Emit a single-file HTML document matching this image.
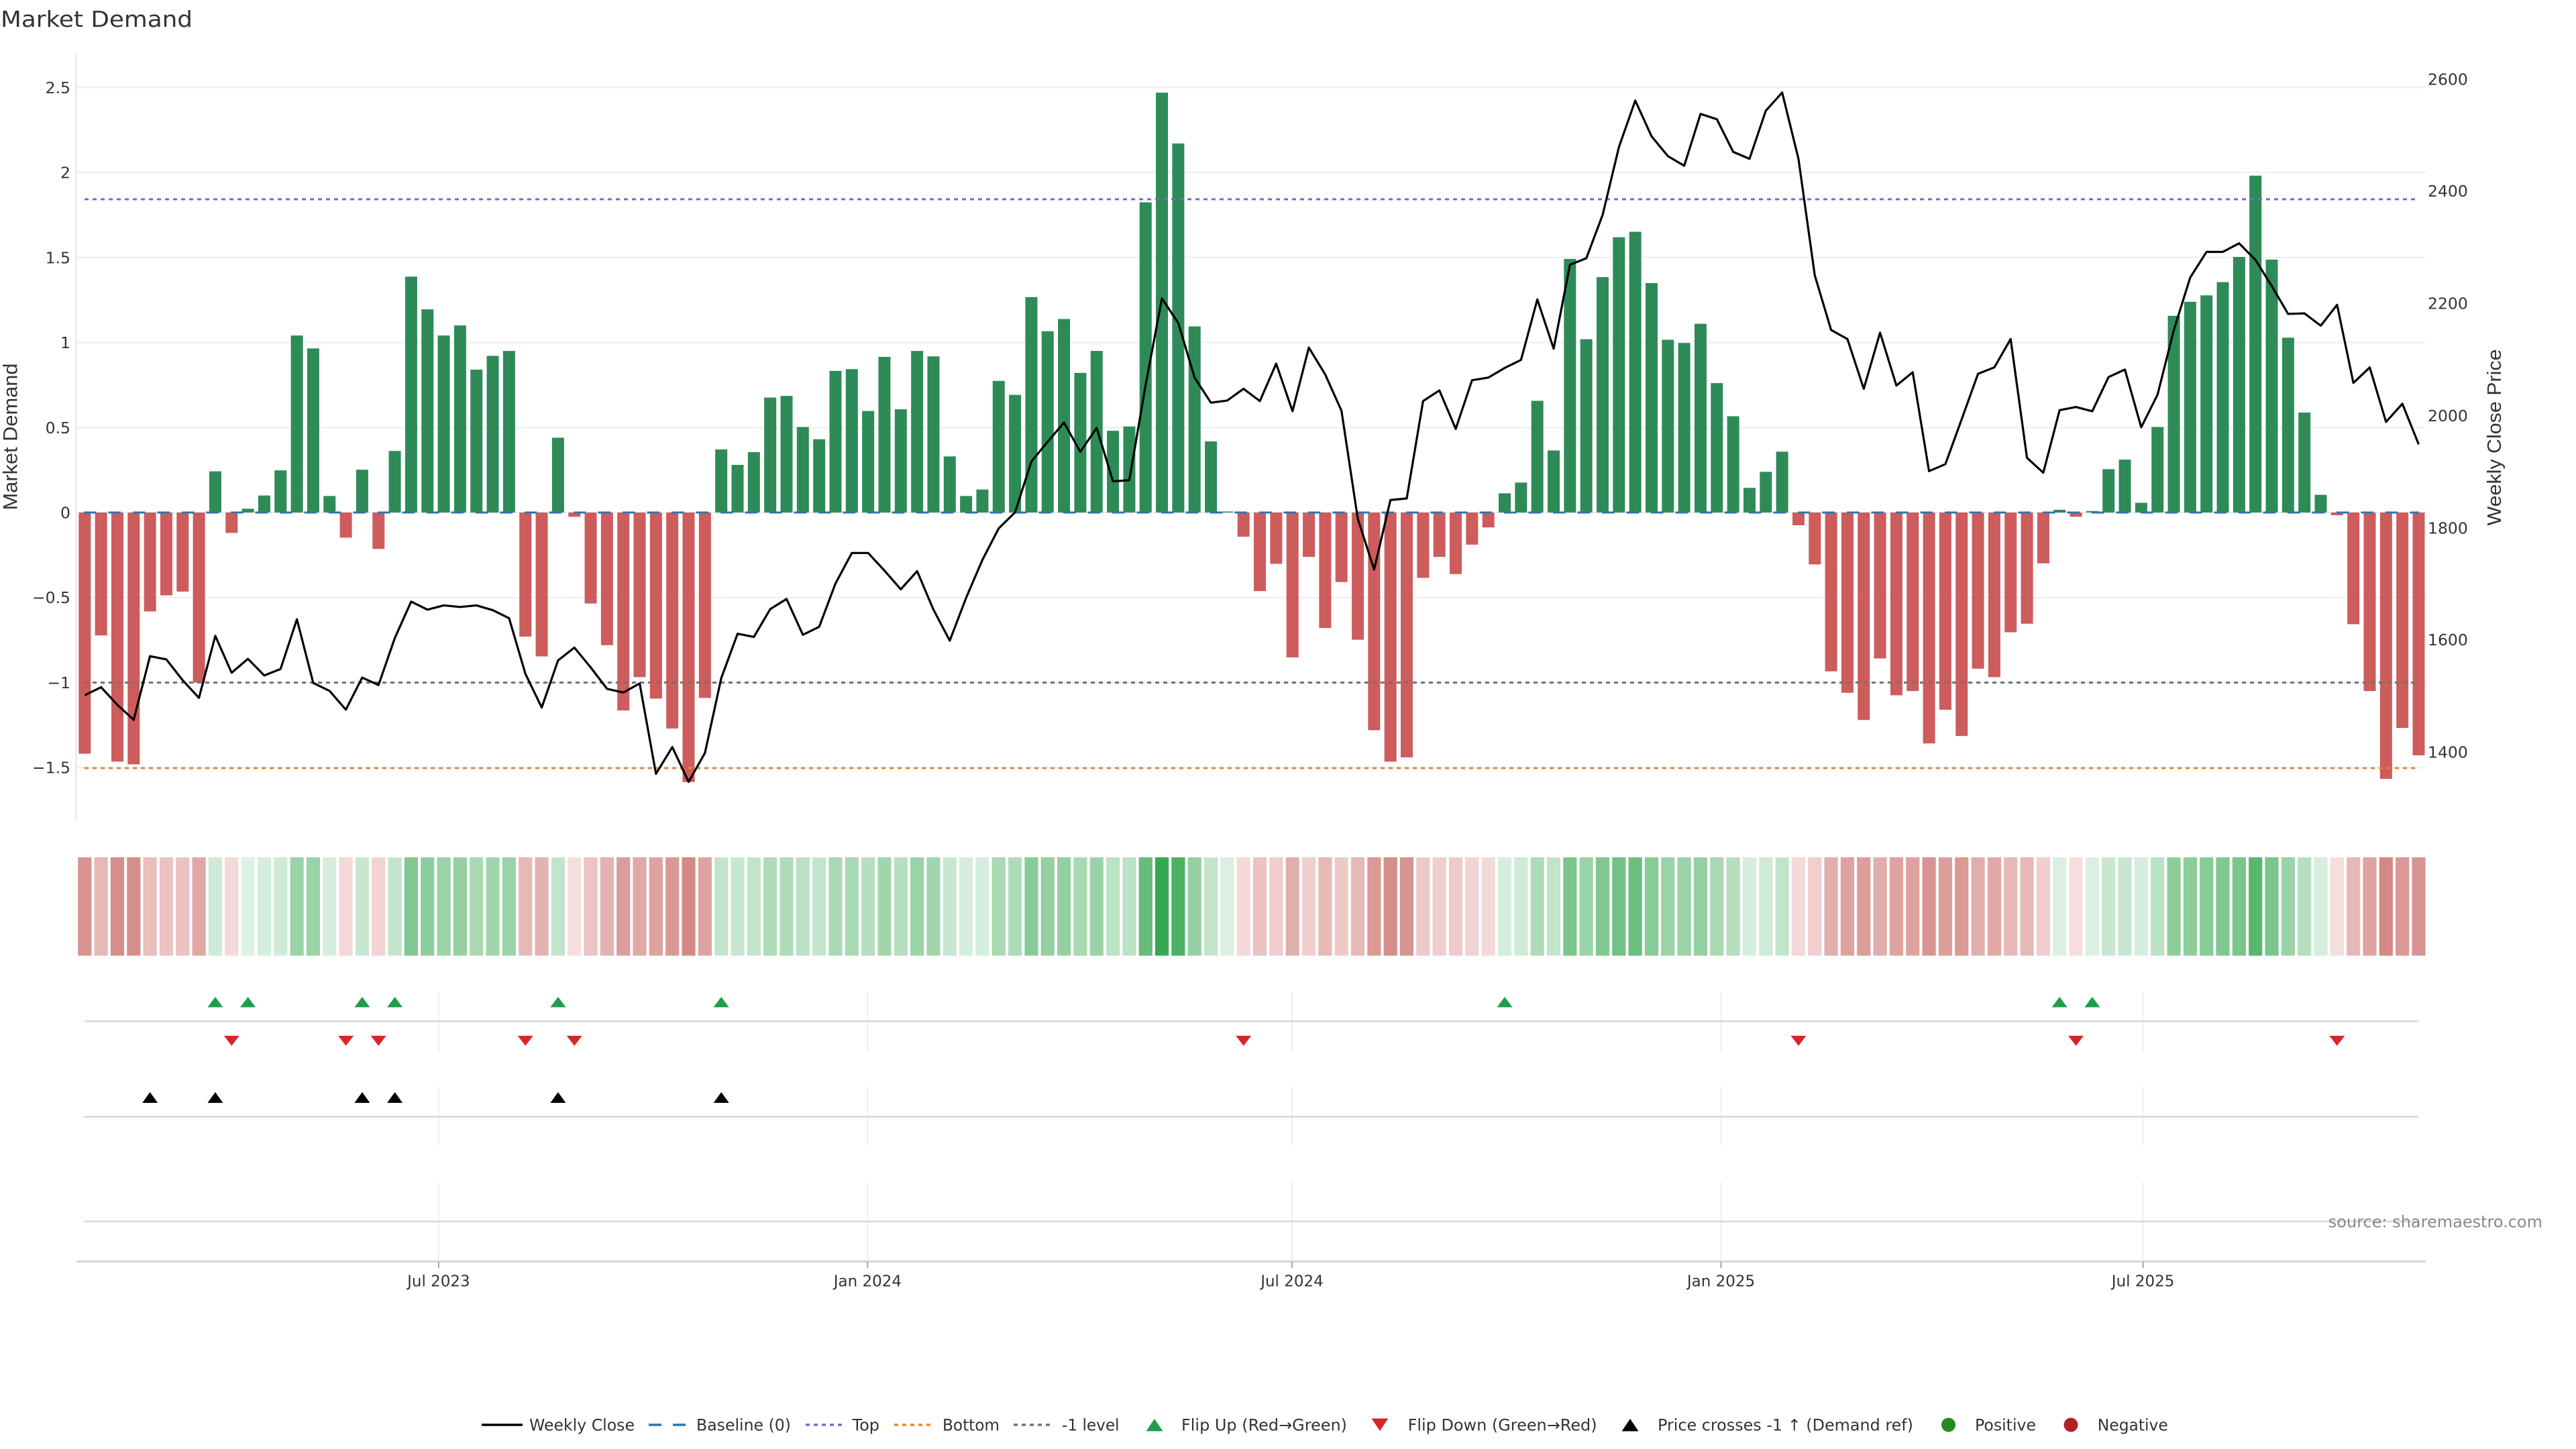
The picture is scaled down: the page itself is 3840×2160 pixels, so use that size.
<!DOCTYPE html>
<html><head><meta charset="utf-8"><style>
html,body{margin:0;padding:0;background:#fff}
svg{display:block}
.t{font-family:"DejaVu Sans","Liberation Sans",sans-serif;fill:#333}
.l{font-family:"Liberation Sans","DejaVu Sans",sans-serif;fill:#333}
</style></head><body>
<svg width="3840" height="2160" viewBox="0 0 3840 2160" xmlns="http://www.w3.org/2000/svg">
<rect width="3840" height="2160" fill="#fff"/>
<text class="t" x="1" y="40" font-size="33" textLength="286" lengthAdjust="spacingAndGlyphs">Market Demand</text>

<!-- gridlines -->
<g stroke="#eceef1" stroke-width="2">
<line x1="114" y1="130.3" x2="3616" y2="130.3"/>
<line x1="114" y1="257" x2="3616" y2="257"/>
<line x1="114" y1="383.8" x2="3616" y2="383.8"/>
<line x1="114" y1="510.5" x2="3616" y2="510.5"/>
<line x1="114" y1="637.3" x2="3616" y2="637.3"/>
<line x1="114" y1="764" x2="3616" y2="764"/>
<line x1="114" y1="890.7" x2="3616" y2="890.7"/>
<line x1="114" y1="1017.5" x2="3616" y2="1017.5"/>
<line x1="114" y1="1144.2" x2="3616" y2="1144.2"/>
</g>
<line x1="113.5" y1="80" x2="113.5" y2="1222" stroke="#e4e5ea" stroke-width="2"/>

<!-- left ticks -->
<g class="t" font-size="23.5" text-anchor="end">
<text x="105" y="138.8">2.5</text>
<text x="105" y="265.5">2</text>
<text x="105" y="392.3">1.5</text>
<text x="105" y="519">1</text>
<text x="105" y="645.8">0.5</text>
<text x="105" y="772.5">0</text>
<text x="105" y="899.2">−0.5</text>
<text x="105" y="1026">−1</text>
<text x="105" y="1152.7">−1.5</text>
</g>
<!-- right ticks -->
<g class="t" font-size="23.5">
<text x="3619" y="126.5">2600</text>
<text x="3619" y="293.1">2400</text>
<text x="3619" y="460.5">2200</text>
<text x="3619" y="627.9">2000</text>
<text x="3619" y="795.3">1800</text>
<text x="3619" y="961.9">1600</text>
<text x="3619" y="1129.3">1400</text>
</g>
<text class="l" font-size="30" text-anchor="middle" dominant-baseline="central" transform="translate(16 651) rotate(-90)" textLength="219" lengthAdjust="spacingAndGlyphs">Market Demand</text>
<text class="l" font-size="29" text-anchor="middle" dominant-baseline="central" transform="translate(3719 652) rotate(-90)" textLength="263" lengthAdjust="spacingAndGlyphs">Weekly Close Price</text>

<!-- bars -->
<g transform="translate(126.3 764) scale(24.33 -253.5)">
<path fill="#2e8b57" d="M7.63 0h.74v.242h-.74zM9.63 0h.74v.022h-.74zM10.63 0h.74v.1h-.74zM11.63 0h.74v.248h-.74zM12.63 0h.74v1.041h-.74zM13.63 0h.74v.965h-.74zM14.63 0h.74v.097h-.74zM16.63 0h.74v.252h-.74zM18.63 0h.74v.362h-.74zM19.63 0h.74v1.387h-.74zM20.63 0h.74v1.195h-.74zM21.63 0h.74v1.041h-.74zM22.63 0h.74v1.1h-.74zM23.63 0h.74v.84h-.74zM24.63 0h.74v.921h-.74zM25.63 0h.74v.95h-.74zM28.63 0h.74v.44h-.74zM38.63 0h.74v.371h-.74zM39.63 0h.74v.28h-.74zM40.63 0h.74v.355h-.74zM41.63 0h.74v.676h-.74zM42.63 0h.74v.686h-.74zM43.63 0h.74v.503h-.74zM44.63 0h.74v.431h-.74zM45.63 0h.74v.833h-.74zM46.63 0h.74v.843h-.74zM47.63 0h.74v.597h-.74zM48.63 0h.74v.915h-.74zM49.63 0h.74v.607h-.74zM50.63 0h.74v.95h-.74zM51.63 0h.74v.918h-.74zM52.63 0h.74v.33h-.74zM53.63 0h.74v.097h-.74zM54.63 0h.74v.135h-.74zM55.63 0h.74v.774h-.74zM56.63 0h.74v.692h-.74zM57.63 0h.74v1.267h-.74zM58.63 0h.74v1.066h-.74zM59.63 0h.74v1.138h-.74zM60.63 0h.74v.821h-.74zM61.63 0h.74v.95h-.74zM62.63 0h.74v.481h-.74zM63.63 0h.74v.506h-.74zM64.63 0h.74v1.824h-.74zM65.63 0h.74v2.469h-.74zM66.63 0h.74v2.17h-.74zM67.63 0h.74v1.094h-.74zM68.63 0h.74v.418h-.74zM69.63 0h.74v.006h-.74zM86.63 0h.74v.113h-.74zM87.63 0h.74v.176h-.74zM88.63 0h.74v.657h-.74zM89.63 0h.74v.365h-.74zM90.63 0h.74v1.491h-.74zM91.63 0h.74v1.019h-.74zM92.63 0h.74v1.384h-.74zM93.63 0h.74v1.619h-.74zM94.63 0h.74v1.651h-.74zM95.63 0h.74v1.349h-.74zM96.63 0h.74v1.016h-.74zM97.63 0h.74v.997h-.74zM98.63 0h.74v1.11h-.74zM99.63 0h.74v.761h-.74zM100.63 0h.74v.566h-.74zM101.63 0h.74v.145h-.74zM102.63 0h.74v.239h-.74zM103.63 0h.74v.358h-.74zM120.63 0h.74v.016h-.74zM122.63 0h.74v.009h-.74zM123.63 0h.74v.255h-.74zM124.63 0h.74v.311h-.74zM125.63 0h.74v.057h-.74zM126.63 0h.74v.503h-.74zM127.63 0h.74v1.157h-.74zM128.63 0h.74v1.239h-.74zM129.63 0h.74v1.277h-.74zM130.63 0h.74v1.355h-.74zM131.63 0h.74v1.503h-.74zM132.63 0h.74v1.981h-.74zM133.63 0h.74v1.487h-.74zM134.63 0h.74v1.028h-.74zM135.63 0h.74v.588h-.74zM136.63 0h.74v.104h-.74z"/>
<path fill="#cd5c5c" d="M-.37 0h.74v-1.418h-.74zM.63 0h.74v-.723h-.74zM1.63 0h.74v-1.465h-.74zM2.63 0h.74v-1.481h-.74zM3.63 0h.74v-.582h-.74zM4.63 0h.74v-.487h-.74zM5.63 0h.74v-.465h-.74zM6.63 0h.74v-1h-.74zM8.63 0h.74v-.12h-.74zM15.63 0h.74v-.148h-.74zM17.63 0h.74v-.214h-.74zM26.63 0h.74v-.73h-.74zM27.63 0h.74v-.846h-.74zM29.63 0h.74v-.025h-.74zM30.63 0h.74v-.535h-.74zM31.63 0h.74v-.78h-.74zM32.63 0h.74v-1.164h-.74zM33.63 0h.74v-.968h-.74zM34.63 0h.74v-1.094h-.74zM35.63 0h.74v-1.27h-.74zM36.63 0h.74v-1.585h-.74zM37.63 0h.74v-1.09h-.74zM70.63 0h.74v-.142h-.74zM71.63 0h.74v-.462h-.74zM72.63 0h.74v-.302h-.74zM73.63 0h.74v-.852h-.74zM74.63 0h.74v-.261h-.74zM75.63 0h.74v-.679h-.74zM76.63 0h.74v-.409h-.74zM77.63 0h.74v-.748h-.74zM78.63 0h.74v-1.28h-.74zM79.63 0h.74v-1.465h-.74zM80.63 0h.74v-1.44h-.74zM81.63 0h.74v-.384h-.74zM82.63 0h.74v-.261h-.74zM83.63 0h.74v-.362h-.74zM84.63 0h.74v-.189h-.74zM85.63 0h.74v-.088h-.74zM104.63 0h.74v-.075h-.74zM105.63 0h.74v-.305h-.74zM106.63 0h.74v-.934h-.74zM107.63 0h.74v-1.06h-.74zM108.63 0h.74v-1.22h-.74zM109.63 0h.74v-.858h-.74zM110.63 0h.74v-1.075h-.74zM111.63 0h.74v-1.05h-.74zM112.63 0h.74v-1.358h-.74zM113.63 0h.74v-1.16h-.74zM114.63 0h.74v-1.314h-.74zM115.63 0h.74v-.918h-.74zM116.63 0h.74v-.968h-.74zM117.63 0h.74v-.704h-.74zM118.63 0h.74v-.654h-.74zM119.63 0h.74v-.299h-.74zM121.63 0h.74v-.025h-.74zM137.63 0h.74v-.016h-.74zM138.63 0h.74v-.657h-.74zM139.63 0h.74v-1.05h-.74zM140.63 0h.74v-1.566h-.74zM141.63 0h.74v-1.267h-.74zM142.63 0h.74v-1.428h-.74z"/>
</g>

<!-- reference lines -->
<line x1="125" y1="764" x2="3606" y2="764" stroke="#2e75ad" stroke-width="3" stroke-dasharray="18.5 18"/>
<line x1="126" y1="297" x2="3605" y2="297" stroke="#7a6ac8" stroke-width="3" stroke-dasharray="6 6"/>
<line x1="126" y1="1017.5" x2="3605" y2="1017.5" stroke="#707080" stroke-width="3" stroke-dasharray="6 6"/>
<line x1="126" y1="1145" x2="3605" y2="1145" stroke="#e8872c" stroke-width="3" stroke-dasharray="6 6"/>

<!-- price line -->
<polyline transform="translate(126.3 0) scale(24.33 0.79719)" fill="none" stroke="#000" stroke-width="3.2" vector-effect="non-scaling-stroke" stroke-linejoin="round" points="0,1300 1,1285 2,1318 3,1346 4,1227 5,1233 6,1272 7,1305 8,1189 9,1258 10,1232 11,1263 12,1251 13,1158 14,1277 15,1292 16,1327 17,1267 18,1281 19,1193 20,1125 21,1140 22,1132 23,1135 24,1132 25,1141 26,1156 27,1260 28,1323 29,1235 30,1211 31,1248 32,1288 33,1295 34,1278 35,1447 36,1397 37,1462 38,1408 39,1268 40,1185 41,1191 42,1139 43,1120 44,1187 45,1172 46,1091 47,1034 48,1034 49,1067 50,1102 51,1068 52,1140 53,1198 54,1118 55,1047 56,988 57,958 58,863 59,826 60,790 61,845 62,800 63,900 64,898 65,720 66,558 67,604 68,706 69,753 70,749 71,727 72,750 73,680 74,769 75,650 76,700 77,768 78,970 79,1065 80,935 81,932 82,750 83,730 84,802 85,711 86,706 87,688 88,673 89,560 90,652 91,495 92,483 93,402 94,275 95,188 96,255 97,292 98,310 99,213 100,223 101,284 102,297 103,207 104,173 105,297 106,515 107,617 108,634 109,727 110,622 111,721 112,696 113,881 114,868 115,784 116,699 117,687 118,634 119,856 120,884 121,767 122,761 123,769 124,705 125,691 126,799 127,738 128,617 129,519 130,471 131,471 132,455 133,486 134,535 135,587 136,586 137,609 138,570 139,716 140,687 141,789 142,755 143,831"/>

<!-- heatmap -->
<g transform="translate(126.3 1278) scale(24.33 1)">
<rect x="-.415" width=".83" height="146.6" fill="#d89490"/><rect x=".585" width=".83" height="146.6" fill="#e6b9b7"/><rect x="1.585" width=".83" height="146.6" fill="#d68e8a"/><rect x="2.585" width=".83" height="146.6" fill="#d68e8a"/><rect x="3.585" width=".83" height="146.6" fill="#e9bebc"/><rect x="4.585" width=".83" height="146.6" fill="#ebc3c2"/><rect x="5.585" width=".83" height="146.6" fill="#ebc3c2"/><rect x="6.585" width=".83" height="146.6" fill="#e0a9a6"/><rect x="7.585" width=".83" height="146.6" fill="#cfead6"/><rect x="8.585" width=".83" height="146.6" fill="#f3d9d8"/>
<rect x="9.585" width=".83" height="146.6" fill="#dcf0e2"/><rect x="10.585" width=".83" height="146.6" fill="#d5eddc"/><rect x="11.585" width=".83" height="146.6" fill="#cfead6"/><rect x="12.585" width=".83" height="146.6" fill="#9ad3a8"/><rect x="13.585" width=".83" height="146.6" fill="#9ad3a8"/><rect x="14.585" width=".83" height="146.6" fill="#d5eddc"/><rect x="15.585" width=".83" height="146.6" fill="#f3d9d8"/><rect x="16.585" width=".83" height="146.6" fill="#c8e7d0"/><rect x="17.585" width=".83" height="146.6" fill="#f1d3d3"/><rect x="18.585" width=".83" height="146.6" fill="#c2e4cb"/>
<rect x="19.585" width=".83" height="146.6" fill="#80c890"/><rect x="20.585" width=".83" height="146.6" fill="#8dcd9c"/><rect x="21.585" width=".83" height="146.6" fill="#9ad3a8"/><rect x="22.585" width=".83" height="146.6" fill="#94d0a2"/><rect x="23.585" width=".83" height="146.6" fill="#a8d9b3"/><rect x="24.585" width=".83" height="146.6" fill="#a1d6ad"/><rect x="25.585" width=".83" height="146.6" fill="#9ad3a8"/><rect x="26.585" width=".83" height="146.6" fill="#e6b9b7"/><rect x="27.585" width=".83" height="146.6" fill="#e4b3b1"/><rect x="28.585" width=".83" height="146.6" fill="#c2e4cb"/>
<rect x="29.585" width=".83" height="146.6" fill="#f5dede"/><rect x="30.585" width=".83" height="146.6" fill="#ebc3c2"/><rect x="31.585" width=".83" height="146.6" fill="#e4b3b1"/><rect x="32.585" width=".83" height="146.6" fill="#dc9e9b"/><rect x="33.585" width=".83" height="146.6" fill="#e0a9a6"/><rect x="34.585" width=".83" height="146.6" fill="#dea3a0"/><rect x="35.585" width=".83" height="146.6" fill="#da9995"/><rect x="36.585" width=".83" height="146.6" fill="#d48984"/><rect x="37.585" width=".83" height="146.6" fill="#dea3a0"/><rect x="38.585" width=".83" height="146.6" fill="#c2e4cb"/>
<rect x="39.585" width=".83" height="146.6" fill="#c8e7d0"/><rect x="40.585" width=".83" height="146.6" fill="#c2e4cb"/><rect x="41.585" width=".83" height="146.6" fill="#aedcb9"/><rect x="42.585" width=".83" height="146.6" fill="#aedcb9"/><rect x="43.585" width=".83" height="146.6" fill="#bbe2c5"/><rect x="44.585" width=".83" height="146.6" fill="#c2e4cb"/><rect x="45.585" width=".83" height="146.6" fill="#a8d9b3"/><rect x="46.585" width=".83" height="146.6" fill="#a8d9b3"/><rect x="47.585" width=".83" height="146.6" fill="#b5dfbf"/><rect x="48.585" width=".83" height="146.6" fill="#a1d6ad"/>
<rect x="49.585" width=".83" height="146.6" fill="#b5dfbf"/><rect x="50.585" width=".83" height="146.6" fill="#9ad3a8"/><rect x="51.585" width=".83" height="146.6" fill="#a1d6ad"/><rect x="52.585" width=".83" height="146.6" fill="#c8e7d0"/><rect x="53.585" width=".83" height="146.6" fill="#d5eddc"/><rect x="54.585" width=".83" height="146.6" fill="#d5eddc"/><rect x="55.585" width=".83" height="146.6" fill="#a8d9b3"/><rect x="56.585" width=".83" height="146.6" fill="#aedcb9"/><rect x="57.585" width=".83" height="146.6" fill="#87cb96"/><rect x="58.585" width=".83" height="146.6" fill="#94d0a2"/>
<rect x="59.585" width=".83" height="146.6" fill="#94d0a2"/><rect x="60.585" width=".83" height="146.6" fill="#a8d9b3"/><rect x="61.585" width=".83" height="146.6" fill="#9ad3a8"/><rect x="62.585" width=".83" height="146.6" fill="#bbe2c5"/><rect x="63.585" width=".83" height="146.6" fill="#bbe2c5"/><rect x="64.585" width=".83" height="146.6" fill="#66bc79"/><rect x="65.585" width=".83" height="146.6" fill="#38a850"/><rect x="66.585" width=".83" height="146.6" fill="#4cb161"/><rect x="67.585" width=".83" height="146.6" fill="#94d0a2"/><rect x="68.585" width=".83" height="146.6" fill="#c2e4cb"/>
<rect x="69.585" width=".83" height="146.6" fill="#dcf0e2"/><rect x="70.585" width=".83" height="146.6" fill="#f3d9d8"/><rect x="71.585" width=".83" height="146.6" fill="#ebc3c2"/><rect x="72.585" width=".83" height="146.6" fill="#efcecd"/><rect x="73.585" width=".83" height="146.6" fill="#e2aeac"/><rect x="74.585" width=".83" height="146.6" fill="#efcecd"/><rect x="75.585" width=".83" height="146.6" fill="#e6b9b7"/><rect x="76.585" width=".83" height="146.6" fill="#edc9c8"/><rect x="77.585" width=".83" height="146.6" fill="#e6b9b7"/><rect x="78.585" width=".83" height="146.6" fill="#da9995"/>
<rect x="79.585" width=".83" height="146.6" fill="#d68e8a"/><rect x="80.585" width=".83" height="146.6" fill="#d89490"/><rect x="81.585" width=".83" height="146.6" fill="#edc9c8"/><rect x="82.585" width=".83" height="146.6" fill="#efcecd"/><rect x="83.585" width=".83" height="146.6" fill="#edc9c8"/><rect x="84.585" width=".83" height="146.6" fill="#f1d3d3"/><rect x="85.585" width=".83" height="146.6" fill="#f3d9d8"/><rect x="86.585" width=".83" height="146.6" fill="#d5eddc"/><rect x="87.585" width=".83" height="146.6" fill="#cfead6"/><rect x="88.585" width=".83" height="146.6" fill="#aedcb9"/>
<rect x="89.585" width=".83" height="146.6" fill="#c2e4cb"/><rect x="90.585" width=".83" height="146.6" fill="#7ac58a"/><rect x="91.585" width=".83" height="146.6" fill="#9ad3a8"/><rect x="92.585" width=".83" height="146.6" fill="#80c890"/><rect x="93.585" width=".83" height="146.6" fill="#73c285"/><rect x="94.585" width=".83" height="146.6" fill="#6cbf7f"/><rect x="95.585" width=".83" height="146.6" fill="#87cb96"/><rect x="96.585" width=".83" height="146.6" fill="#9ad3a8"/><rect x="97.585" width=".83" height="146.6" fill="#9ad3a8"/><rect x="98.585" width=".83" height="146.6" fill="#94d0a2"/>
<rect x="99.585" width=".83" height="146.6" fill="#a8d9b3"/><rect x="100.585" width=".83" height="146.6" fill="#b5dfbf"/><rect x="101.585" width=".83" height="146.6" fill="#d5eddc"/><rect x="102.585" width=".83" height="146.6" fill="#cfead6"/><rect x="103.585" width=".83" height="146.6" fill="#c2e4cb"/><rect x="104.585" width=".83" height="146.6" fill="#f3d9d8"/><rect x="105.585" width=".83" height="146.6" fill="#efcecd"/><rect x="106.585" width=".83" height="146.6" fill="#e2aeac"/><rect x="107.585" width=".83" height="146.6" fill="#dea3a0"/><rect x="108.585" width=".83" height="146.6" fill="#dc9e9b"/>
<rect x="109.585" width=".83" height="146.6" fill="#e2aeac"/><rect x="110.585" width=".83" height="146.6" fill="#dea3a0"/><rect x="111.585" width=".83" height="146.6" fill="#dea3a0"/><rect x="112.585" width=".83" height="146.6" fill="#d89490"/><rect x="113.585" width=".83" height="146.6" fill="#dc9e9b"/><rect x="114.585" width=".83" height="146.6" fill="#da9995"/><rect x="115.585" width=".83" height="146.6" fill="#e2aeac"/><rect x="116.585" width=".83" height="146.6" fill="#e0a9a6"/><rect x="117.585" width=".83" height="146.6" fill="#e6b9b7"/><rect x="118.585" width=".83" height="146.6" fill="#e6b9b7"/>
<rect x="119.585" width=".83" height="146.6" fill="#efcecd"/><rect x="120.585" width=".83" height="146.6" fill="#dcf0e2"/><rect x="121.585" width=".83" height="146.6" fill="#f5dede"/><rect x="122.585" width=".83" height="146.6" fill="#dcf0e2"/><rect x="123.585" width=".83" height="146.6" fill="#c8e7d0"/><rect x="124.585" width=".83" height="146.6" fill="#c8e7d0"/><rect x="125.585" width=".83" height="146.6" fill="#d5eddc"/><rect x="126.585" width=".83" height="146.6" fill="#bbe2c5"/><rect x="127.585" width=".83" height="146.6" fill="#8dcd9c"/><rect x="128.585" width=".83" height="146.6" fill="#8dcd9c"/>
<rect x="129.585" width=".83" height="146.6" fill="#87cb96"/><rect x="130.585" width=".83" height="146.6" fill="#80c890"/><rect x="131.585" width=".83" height="146.6" fill="#7ac58a"/><rect x="132.585" width=".83" height="146.6" fill="#59b66d"/><rect x="133.585" width=".83" height="146.6" fill="#7ac58a"/><rect x="134.585" width=".83" height="146.6" fill="#9ad3a8"/><rect x="135.585" width=".83" height="146.6" fill="#b5dfbf"/><rect x="136.585" width=".83" height="146.6" fill="#d5eddc"/><rect x="137.585" width=".83" height="146.6" fill="#f5dede"/><rect x="138.585" width=".83" height="146.6" fill="#e6b9b7"/>
<rect x="139.585" width=".83" height="146.6" fill="#dea3a0"/><rect x="140.585" width=".83" height="146.6" fill="#d48984"/><rect x="141.585" width=".83" height="146.6" fill="#da9995"/><rect x="142.585" width=".83" height="146.6" fill="#d89490"/>
</g>

<!-- marker panels: vertical grid -->
<g stroke="#eceef1" stroke-width="2">
<line x1="653.9" y1="1478" x2="653.9" y2="1567"/><line x1="1293.4" y1="1478" x2="1293.4" y2="1567"/><line x1="1926" y1="1478" x2="1926" y2="1567"/><line x1="2565.5" y1="1478" x2="2565.5" y2="1567"/><line x1="3194.6" y1="1478" x2="3194.6" y2="1567"/>
<line x1="653.9" y1="1620" x2="653.9" y2="1707"/><line x1="1293.4" y1="1620" x2="1293.4" y2="1707"/><line x1="1926" y1="1620" x2="1926" y2="1707"/><line x1="2565.5" y1="1620" x2="2565.5" y2="1707"/><line x1="3194.6" y1="1620" x2="3194.6" y2="1707"/>
<line x1="653.9" y1="1762" x2="653.9" y2="1880"/><line x1="1293.4" y1="1762" x2="1293.4" y2="1880"/><line x1="1926" y1="1762" x2="1926" y2="1880"/><line x1="2565.5" y1="1762" x2="2565.5" y2="1880"/><line x1="3194.6" y1="1762" x2="3194.6" y2="1880"/>
</g>
<g stroke="#d6d6d6" stroke-width="2.5">
<line x1="126" y1="1522.3" x2="3605" y2="1522.3"/>
<line x1="126" y1="1664.7" x2="3605" y2="1664.7"/>
<line x1="126" y1="1820.8" x2="3605" y2="1820.8"/>
</g>
<line x1="114" y1="1880.5" x2="3616" y2="1880.5" stroke="#d0d0d0" stroke-width="2.5"/>

<!-- flip up -->
<path fill="#1e9e4a" d="M320.9 1486l11.5 15.5h-23zM369.6 1486l11.5 15.5h-23zM539.9 1486l11.5 15.5h-23zM588.6 1486l11.5 15.5h-23zM831.9 1486l11.5 15.5h-23zM1075.2 1486l11.5 15.5h-23zM2243 1486l11.5 15.5h-23zM3070.2 1486l11.5 15.5h-23zM3118.9 1486l11.5 15.5h-23z"/>
<!-- flip down -->
<path fill="#d62728" d="M345.3 1559l11.5-15h-23zM515.6 1559l11.5-15h-23zM564.2 1559l11.5-15h-23zM783.2 1559l11.5-15h-23zM856.2 1559l11.5-15h-23zM1853.7 1559l11.5-15h-23zM2681 1559l11.5-15h-23zM3094.6 1559l11.5-15h-23zM3483.8 1559l11.5-15h-23z"/>
<!-- price crosses -->
<path fill="#000" d="M223.6 1628l11.5 16h-23zM320.9 1628l11.5 16h-23zM539.9 1628l11.5 16h-23zM588.6 1628l11.5 16h-23zM831.9 1628l11.5 16h-23zM1075.2 1628l11.5 16h-23z"/>

<text class="t" x="3790" y="1829.5" font-size="24" text-anchor="end" style="fill:#888">source: sharemaestro.com</text>

<!-- x ticks -->
<g stroke="#888" stroke-width="1.5">
<line x1="653.9" y1="1881" x2="653.9" y2="1890"/><line x1="1293.4" y1="1881" x2="1293.4" y2="1890"/><line x1="1926" y1="1881" x2="1926" y2="1890"/><line x1="2565.5" y1="1881" x2="2565.5" y2="1890"/><line x1="3194.6" y1="1881" x2="3194.6" y2="1890"/>
</g>
<g class="t" font-size="23" text-anchor="middle">
<text x="653.9" y="1917.5">Jul 2023</text>
<text x="1293.4" y="1917.5">Jan 2024</text>
<text x="1926" y="1917.5">Jul 2024</text>
<text x="2565.5" y="1917.5">Jan 2025</text>
<text x="3194.6" y="1917.5">Jul 2025</text>
</g>

<!-- legend -->
<line x1="718" y1="2124" x2="779" y2="2124" stroke="#000" stroke-width="3.5"/>
<line x1="967" y1="2124" x2="1022" y2="2124" stroke="#2e75ad" stroke-width="3.5" stroke-dasharray="19 17"/>
<line x1="1201" y1="2124" x2="1255" y2="2124" stroke="#7a6ac8" stroke-width="3.5" stroke-dasharray="6 6"/>
<line x1="1333" y1="2124" x2="1388" y2="2124" stroke="#e8872c" stroke-width="3.5" stroke-dasharray="6 6"/>
<line x1="1511" y1="2124" x2="1567" y2="2124" stroke="#707080" stroke-width="3.5" stroke-dasharray="6 6"/>
<path fill="#1e9e4a" d="M1721 2115l12.5 18.5h-25z"/>
<path fill="#d62728" d="M2057 2133l12.5-18.5h-25z"/>
<path fill="#000" d="M2430 2115l12.5 18.5h-25z"/>
<circle cx="2904.5" cy="2124" r="10.5" fill="#228b22"/>
<circle cx="3087" cy="2124" r="10.5" fill="#b22222"/>
<g class="t" font-size="23.8">
<text x="789" y="2132.5" textLength="157" lengthAdjust="spacingAndGlyphs">Weekly Close</text>
<text x="1038" y="2132.5" textLength="141" lengthAdjust="spacingAndGlyphs">Baseline (0)</text>
<text x="1270.5" y="2132.5" textLength="40.5" lengthAdjust="spacingAndGlyphs">Top</text>
<text x="1405" y="2132.5" textLength="85" lengthAdjust="spacingAndGlyphs">Bottom</text>
<text x="1583" y="2132.5" textLength="85.5" lengthAdjust="spacingAndGlyphs">-1 level</text>
<text x="1761" y="2132.5" textLength="247" lengthAdjust="spacingAndGlyphs">Flip Up (Red→Green)</text>
<text x="2098.6" y="2132.5" textLength="282" lengthAdjust="spacingAndGlyphs">Flip Down (Green→Red)</text>
<text x="2471" y="2132.5" textLength="381" lengthAdjust="spacingAndGlyphs">Price crosses -1 ↑ (Demand ref)</text>
<text x="2944" y="2132.5" textLength="91" lengthAdjust="spacingAndGlyphs">Positive</text>
<text x="3126.8" y="2132.5" textLength="105" lengthAdjust="spacingAndGlyphs">Negative</text>
</g>
</svg>
</body></html>
